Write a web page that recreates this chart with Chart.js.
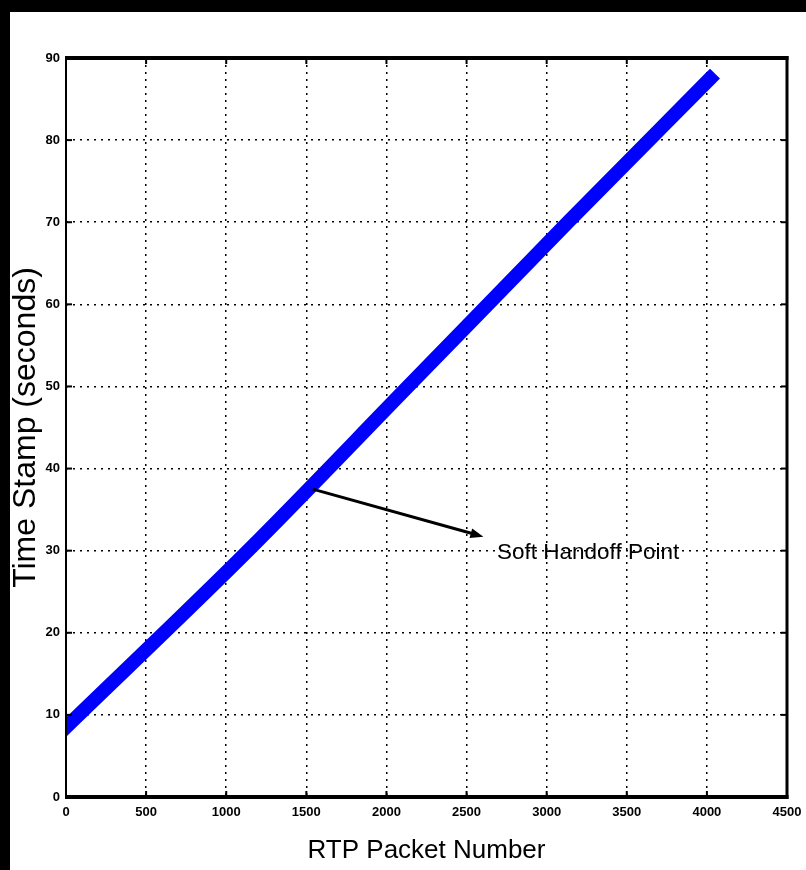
<!DOCTYPE html>
<html><head><meta charset="utf-8">
<script src="https://cdn.jsdelivr.net/npm/chart.js@4"></script>
<style>
html,body{margin:0;padding:0;background:#000;width:806px;height:870px;overflow:hidden;}
#wrap{position:absolute;left:10px;top:12px;width:796px;height:858px;background:#fff;}
canvas{display:block;}
</style></head><body>
<div id="wrap"><canvas id="c" width="796" height="858"></canvas></div>
<script>
// Data
const packetNumbers = [0, 1136, 2135, 3133, 4020];
const timeStamps = [8.5, 30, 50, 70, 87.5];
const xTickValues = [0, 500, 1000, 1500, 2000, 2500, 3000, 3500, 4000, 4500];
const yTickValues = [0, 10, 20, 30, 40, 50, 60, 70, 80, 90];
const xAxisTitle = 'RTP Packet Number';
const yAxisTitle = 'Time Stamp (seconds)';
const annotationText = 'Soft Handoff Point';
const arrowStart = [1540, 37.5];
const arrowEnd = [2605, 31.7];
const labelAnchor = [2690, 29.8];

const points = packetNumbers.map((x, i) => ({x: x, y: timeStamps[i]}));

const framePlugin = {
  id: 'frame',
  afterDatasetsDraw(chart) {
    const {ctx, chartArea: a, scales: {x, y}} = chart;
    ctx.save();
    ctx.fillStyle = '#000';
    // inward tick marks
    const tl = 6;
    xTickValues.forEach(v => {
      const px = x.getPixelForValue(v);
      ctx.fillRect(px - 1, a.bottom - tl, 2, tl);
      ctx.fillRect(px - 1, a.top, 2, tl);
    });
    yTickValues.forEach(v => {
      const py = y.getPixelForValue(v);
      ctx.fillRect(a.left, py - 1, tl, 2);
      ctx.fillRect(a.right - tl, py - 1, tl, 2);
    });
    // frame
    ctx.fillRect(a.left - 1, a.top - 2, 2, a.bottom - a.top + 4);
    ctx.fillRect(a.right - 1.5, a.top - 2, 3, a.bottom - a.top + 4);
    ctx.fillRect(a.left - 1, a.top - 2, a.right - a.left + 2.5, 4);
    ctx.fillRect(a.left - 1, a.bottom - 2, a.right - a.left + 2.5, 4);

    // annotation arrow
    const x0 = x.getPixelForValue(arrowStart[0]), y0 = y.getPixelForValue(arrowStart[1]);
    const x1 = x.getPixelForValue(arrowEnd[0]), y1 = y.getPixelForValue(arrowEnd[1]);
    const ang = Math.atan2(y1 - y0, x1 - x0);
    ctx.strokeStyle = '#000';
    ctx.lineWidth = 3;
    ctx.beginPath();
    ctx.moveTo(x0, y0);
    ctx.lineTo(x1 - 8 * Math.cos(ang), y1 - 8 * Math.sin(ang));
    ctx.stroke();
    ctx.beginPath();
    ctx.moveTo(x1, y1);
    ctx.lineTo(x1 - 13 * Math.cos(ang) + 5 * Math.sin(ang), y1 - 13 * Math.sin(ang) - 5 * Math.cos(ang));
    ctx.lineTo(x1 - 13 * Math.cos(ang) - 5 * Math.sin(ang), y1 - 13 * Math.sin(ang) + 5 * Math.cos(ang));
    ctx.closePath();
    ctx.fill();
    // annotation label
    ctx.font = '22.5px "Liberation Sans", Arial, sans-serif';
    ctx.textAlign = 'left';
    ctx.textBaseline = 'middle';
    ctx.fillText(annotationText, x.getPixelForValue(labelAnchor[0]), y.getPixelForValue(labelAnchor[1]));
    ctx.restore();
  }
};

const tickFont = {family: '"Liberation Sans", Arial, sans-serif', size: 13, weight: 'bold'};

new Chart(document.getElementById('c'), {
  type: 'scatter',
  data: {
    datasets: [{
      data: points,
      showLine: true,
      borderColor: '#0000ff',
      backgroundColor: '#0000ff',
      borderWidth: 14,
      borderCapStyle: 'square',
      cubicInterpolationMode: 'monotone',
      pointRadius: 0,
      clip: 0
    }]
  },
  options: {
    responsive: false,
    animation: false,
    devicePixelRatio: 1,
    layout: {padding: {top: 46, right: 19, left: 0, bottom: 0}},
    plugins: {legend: {display: false}, tooltip: {enabled: false}},
    scales: {
      x: {
        type: 'linear', min: 0, max: 4500,
        afterBuildTicks: s => { s.ticks = xTickValues.map(v => ({value: v})); },
        afterFit: s => { s.height = 73; s.paddingRight = 0; s.paddingLeft = 0; },
        grid: {color: '#000', lineWidth: 1.5, drawTicks: false},
        border: {display: false, dash: [2, 5]},
        ticks: {color: '#000', padding: 8, maxRotation: 0, autoSkip: false, font: tickFont,
          callback: v => String(v)},
        title: {display: true, text: xAxisTitle, color: '#000', padding: {top: 0, bottom: 6.5},
          font: {family: '"Liberation Sans", Arial, sans-serif', size: 26, lineHeight: 1}}
      },
      y: {
        type: 'linear', min: 0, max: 90,
        afterBuildTicks: s => { s.ticks = yTickValues.map(v => ({value: v})); },
        afterFit: s => { s.width = 56; s.paddingTop = 0; s.paddingBottom = 0; },
        grid: {color: '#000', lineWidth: 1.5, drawTicks: false},
        border: {display: false, dash: [2, 5]},
        ticks: {color: '#000', padding: 6, autoSkip: false, font: tickFont,
          callback: v => String(v)},
        title: {display: true, text: yAxisTitle, color: '#000', padding: {top: 0, bottom: 0},
          font: {family: '"Liberation Sans", Arial, sans-serif', size: 32, lineHeight: 1}}
      }
    }
  },
  plugins: [framePlugin]
});
</script>
</body></html>
